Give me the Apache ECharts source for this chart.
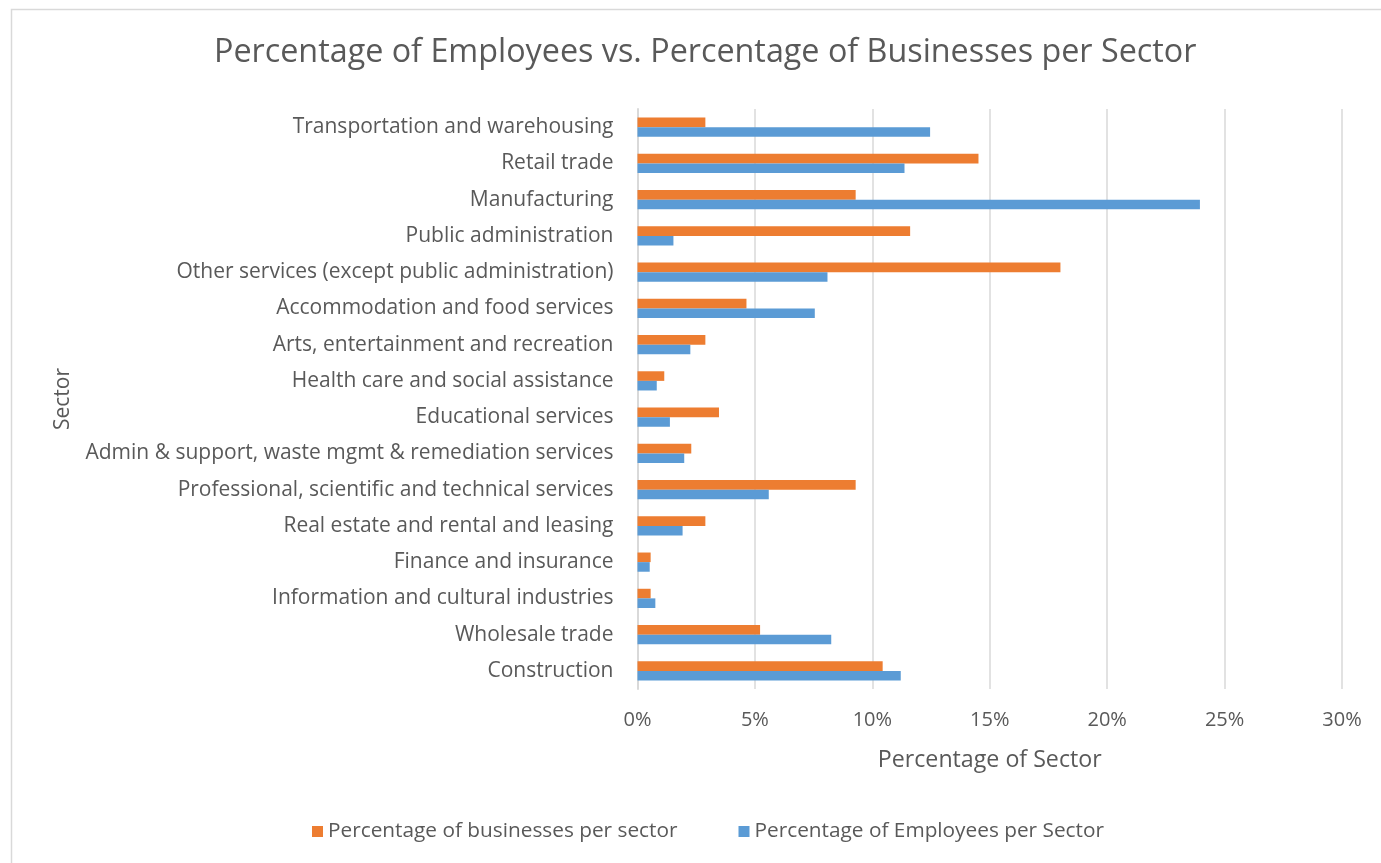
<!DOCTYPE html>
<html>
<head>
<meta charset="utf-8">
<title>Percentage of Employees vs. Percentage of Businesses per Sector</title>
<script src="https://cdn.jsdelivr.net/npm/echarts@6/dist/echarts.min.js"></script>
<style>
  html, body { margin: 0; padding: 0; background: #ffffff; }
  #chart { width: 1381px; height: 863px; }
</style>
</head>
<body>
<div id="chart"></div>
<script>
// Sectors, listed top to bottom
const sectors = [
  'Transportation and warehousing',
  'Retail trade',
  'Manufacturing',
  'Public administration',
  'Other services (except public administration)',
  'Accommodation and food services',
  'Arts, entertainment and recreation',
  'Health care and social assistance',
  'Educational services',
  'Admin & support, waste mgmt & remediation services',
  'Professional, scientific and technical services',
  'Real estate and rental and leasing',
  'Finance and insurance',
  'Information and cultural industries',
  'Wholesale trade',
  'Construction'
];

// Share of businesses in each sector (%)
const businessesPct = [2.89, 14.52, 9.29, 11.61, 18.01, 4.64, 2.89, 1.14, 3.47, 2.29, 9.29, 2.89, 0.56, 0.56, 5.22, 10.44];

// Share of employees in each sector (%)
const employeesPct = [12.46, 11.37, 23.95, 1.53, 8.09, 7.55, 2.25, 0.82, 1.38, 1.99, 5.59, 1.92, 0.52, 0.76, 8.25, 11.21];

const seriesNames = ['Percentage of businesses per sector', 'Percentage of Employees per Sector'];
const xTicks = { min: 0, max: 30, step: 5 };

const FONT = '"Open Sans", Lato, sans-serif';
const TEXT = '#595959';
const GRID = '#d9d9d9';

const chart = echarts.init(document.getElementById('chart'), null, { renderer: 'canvas' });

chart.setOption({
  backgroundColor: '#ffffff',
  animation: false,
  textStyle: { fontFamily: FONT, color: TEXT },
  graphic: [{
    type: 'rect',
    shape: { x: 11.5, y: 9.5, width: 1400, height: 900 },
    style: { fill: 'none', stroke: GRID, lineWidth: 1.5 },
    silent: true,
    z: -1
  }],
  title: {
    text: 'Percentage of Employees vs. Percentage of Businesses per Sector',
    left: 209,
    top: 32,
    textStyle: { fontFamily: FONT, fontSize: 32.3, fontWeight: 'normal', color: TEXT }
  },
  legend: {
    bottom: 16,
    left: 307,
    icon: 'rect',
    itemWidth: 11,
    itemHeight: 11,
    itemGap: 61,
    textStyle: { fontFamily: FONT, fontSize: 20.8, color: TEXT },
    data: seriesNames
  },
  grid: { left: 637.5, right: 39, top: 109, bottom: 174, containLabel: false },
  xAxis: {
    type: 'value',
    min: xTicks.min,
    max: xTicks.max,
    interval: xTicks.step,
    name: 'Percentage of Sector',
    nameLocation: 'middle',
    nameGap: 60,
    nameTextStyle: { fontFamily: FONT, fontSize: 23.2, color: TEXT },
    axisLine: { show: false },
    axisTick: { show: false },
    axisLabel: { formatter: '{value}%', fontFamily: FONT, fontSize: 20, color: TEXT, margin: 21 },
    splitLine: { show: true, lineStyle: { color: GRID, width: 1.5 } }
  },
  yAxis: {
    type: 'category',
    inverse: true,
    data: sectors,
    name: 'Sector',
    nameLocation: 'middle',
    nameGap: 564,
    nameRotate: 90,
    nameTextStyle: { fontFamily: FONT, fontSize: 21, color: TEXT },
    axisLine: { show: true, lineStyle: { color: GRID, width: 2 } },
    axisTick: { show: false },
    axisLabel: { fontFamily: FONT, fontSize: 21, color: TEXT, margin: 24 },
    splitLine: { show: false }
  },
  series: [
    {
      name: seriesNames[0],
      type: 'bar',
      data: businessesPct,
      barGap: '0%',
      barCategoryGap: '47%',
      itemStyle: { color: '#ED7D31' }
    },
    {
      name: seriesNames[1],
      type: 'bar',
      data: employeesPct,
      barGap: '0%',
      barCategoryGap: '47%',
      itemStyle: { color: '#5B9BD5' }
    }
  ]
});
</script>
</body>
</html>
